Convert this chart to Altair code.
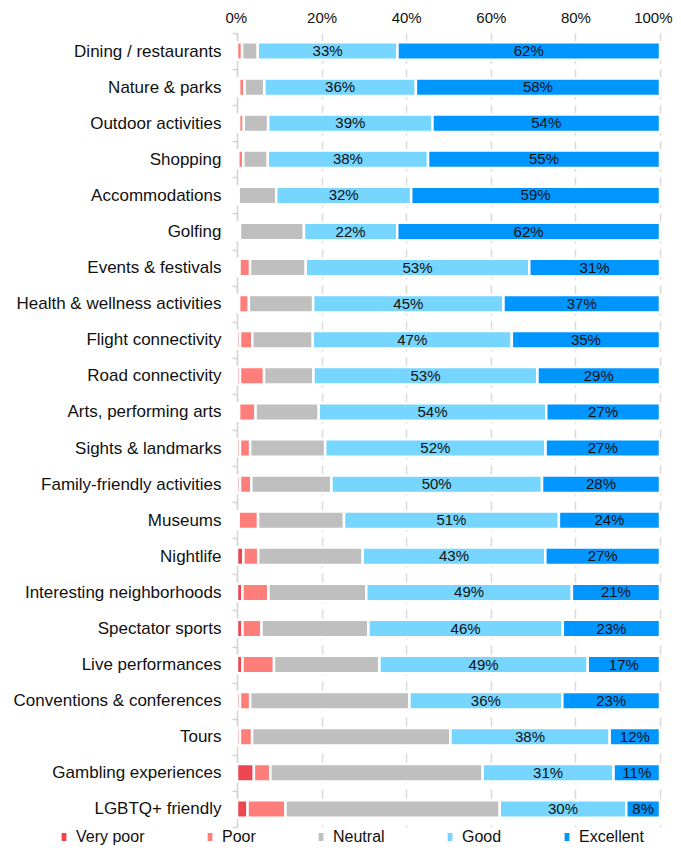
import altair as alt
import pandas as pd

categories = [
    "Dining / restaurants", "Nature & parks", "Outdoor activities", "Shopping",
    "Accommodations", "Golfing", "Events & festivals", "Health & wellness activities",
    "Flight connectivity", "Road connectivity", "Arts, performing arts",
    "Sights & landmarks", "Family-friendly activities", "Museums", "Nightlife",
    "Interesting neighborhoods", "Spectator sports", "Live performances",
    "Conventions & conferences", "Tours", "Gambling experiences", "LGBTQ+ friendly",
]
levels = ["Very poor", "Poor", "Neutral", "Good", "Excellent"]
colors = ["#EC4651", "#FF7E79", "#BFBFBF", "#76D6FF", "#0096FF"]

very_poor = [0.0, 0.5, 0.5, 0.3, 0.0, 0.3, 0.6, 0.5, 0.7, 0.7, 0.5,
             0.7, 0.7, 0.4, 1.5, 1.3, 1.3, 1.3, 0.7, 0.7, 4.0, 2.5]
poor = [1.2, 1.3, 1.1, 1.2, 0.4, 0.4, 2.5, 2.3, 2.9, 5.7, 3.9,
        2.4, 2.7, 4.6, 3.5, 6.2, 4.5, 7.4, 2.4, 2.9, 3.9, 9.0]
neutral = [3.7, 4.7, 5.8, 5.8, 8.9, 15.1, 13.2, 15.2, 14.3, 11.7, 15.0,
           17.7, 19.0, 20.4, 24.6, 23.3, 25.3, 24.8, 37.5, 47.3, 50.3, 50.8]
good = [33, 36, 39, 38, 32, 22, 53, 45, 47, 53, 54,
        52, 50, 51, 43, 49, 46, 49, 36, 38, 31, 30]
excellent = [62, 58, 54, 55, 59, 62, 31, 37, 35, 29, 27,
             27, 28, 24, 27, 21, 23, 17, 23, 12, 11, 8]

rows = []
for i, cat in enumerate(categories):
    vals = [very_poor[i], poor[i], neutral[i], good[i], excellent[i]]
    total = sum(vals)
    acc = 0.0
    for k, lev in enumerate(levels):
        start = acc / total
        acc += vals[k]
        end = acc / total
        label = f"{round(vals[k])}%" if lev in ("Good", "Excellent") else ""
        rows.append({"category": cat, "level": lev, "order": k, "start": start,
                     "end": end, "mid": (start + end) / 2, "label": label})
df = pd.DataFrame(rows)

FONT = "Liberation Sans"

y_enc = alt.Y(
    "category:N", sort=categories, title=None,
    scale=alt.Scale(paddingInner=0, paddingOuter=0),
    axis=alt.Axis(labelFontSize=17, labelColor="#111111", labelFont=FONT,
                  labelPadding=11, tickSize=5, tickColor="#d4d4d4", tickWidth=1.5,
                  domainColor="#d4d4d4", domainWidth=1.5, tickBand="extent",
                  labelLimit=400, grid=False, title=None),
)

x_scale = alt.Scale(domain=[0, 1], nice=False)

bars = alt.Chart(df).mark_bar(size=17.5, stroke="white", strokeWidth=2.5).encode(
    x=alt.X("start:Q", title=None, scale=x_scale,
            axis=alt.Axis(orient="top", format=".0%", values=[0, 0.2, 0.4, 0.6, 0.8, 1.0],
                          labelFontSize=15, labelFont=FONT, labelColor="#111111",
                          labelFlush=True, labelFlushOffset=12,
                          ticks=False, domain=False, labelPadding=8, title=None,
                          grid=True, gridColor="#d9d9d9", gridWidth=1.5,
                          gridDash=[12, 6])),
    x2="end:Q",
    y=y_enc,
    color=alt.Color("level:N", sort=levels,
                    scale=alt.Scale(domain=levels, range=colors),
                    legend=alt.Legend(
                        title=None, orient="none", direction="horizontal",
                        legendX=-181, legendY=796, padding=0,
                        symbolType="M-0.6,-1H0.6V1H-0.6Z", symbolSize=64,
                        symbolStrokeWidth=0, labelFontSize=16, labelFont=FONT,
                        labelColor="#111111", labelOffset=4, columnPadding=57)),
    order=alt.Order("order:Q"),
)

texts = alt.Chart(df).transform_filter("datum.label != ''").mark_text(
    fontSize=15, font=FONT, color="#111111", baseline="middle", align="center"
).encode(
    x=alt.X("mid:Q", scale=x_scale, title=None),
    y=alt.Y("category:N", sort=categories, title=None),
    text="label:N",
)

chart = (bars + texts).properties(
    width=423, height=794,
    autosize=alt.AutoSizeParams(type="none"),
    padding={"left": 229, "top": 25, "right": 13, "bottom": 19},
).configure_view(stroke=None)

chart.save("out.html", embed_options={"renderer": "svg", "actions": False})
